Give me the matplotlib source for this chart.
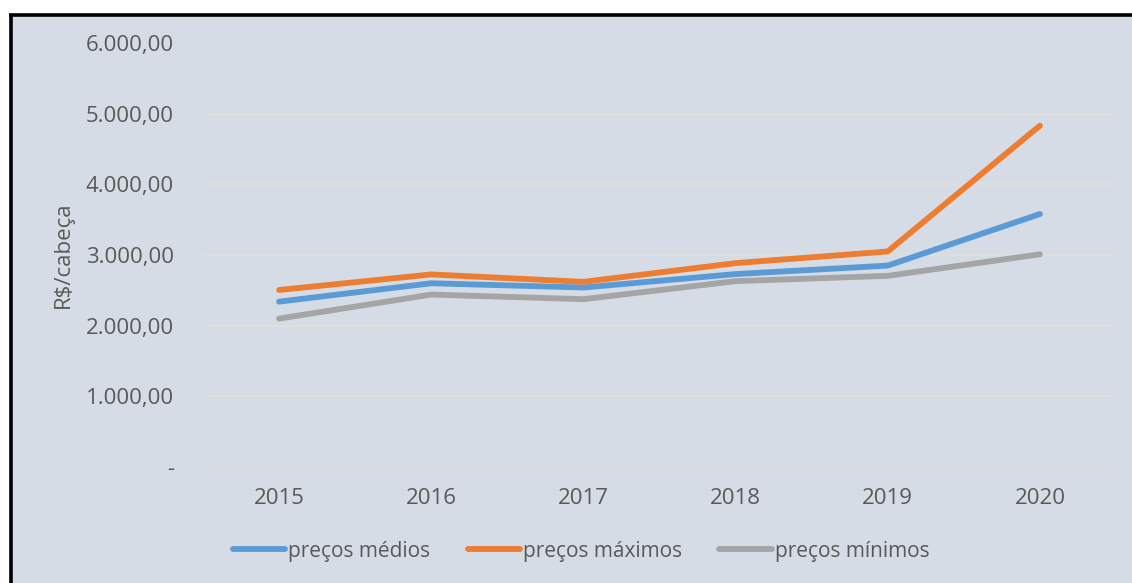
import matplotlib
matplotlib.use("Agg")
import matplotlib.pyplot as plt
from matplotlib.patches import Rectangle
from matplotlib.lines import Line2D

years = ["2015", "2016", "2017", "2018", "2019", "2020"]
precos_medios = [2340, 2600, 2540, 2730, 2850, 3580]
precos_maximos = [2505, 2725, 2620, 2885, 3050, 4830]
precos_minimos = [2100, 2440, 2375, 2630, 2705, 3010]
y_ticks = [0, 1000, 2000, 3000, 4000, 5000, 6000]
y_tick_labels = ["-", "1.000,00", "2.000,00", "3.000,00", "4.000,00", "5.000,00", "6.000,00"]
series_names = ["preços médios", "preços máximos", "preços mínimos"]

plt.rcParams['font.family'] = ['Open Sans', 'DejaVu Sans']

W, H = 1132, 583
fig = plt.figure(figsize=(W / 100, H / 100), dpi=100, facecolor="white")
bg = "#D6DCE5"
text_col = "#595959"

# background panel and border (top and left)
fig.patches.append(Rectangle((12 / W, 0), 1 - 12 / W, (H - 15) / H, transform=fig.transFigure,
                             facecolor=bg, edgecolor="none", zorder=-2))
fig.add_artist(Line2D([10.5 / W, 10.5 / W], [0, (H - 13.5) / H], color="black", lw=2.6,
                      transform=fig.transFigure, solid_capstyle="butt", zorder=-1))
fig.add_artist(Line2D([9 / W, 1], [(H - 14.5) / H, (H - 14.5) / H], color="black", lw=2.6,
                      transform=fig.transFigure, solid_capstyle="butt", zorder=-1))

ax = fig.add_axes([203 / W, 1 - 467 / H, (1116 - 203) / W, (467 - 43) / H])
ax.set_zorder(2)
ax.patch.set_alpha(0)

x = list(range(len(years)))
colors = ["#5B9BD5", "#ED7D31", "#A5A5A5"]
for vals, c, name in zip([precos_medios, precos_maximos, precos_minimos], colors, series_names):
    ax.plot(x, vals, color=c, lw=4.2, solid_capstyle="round", solid_joinstyle="round", label=name, zorder=3)

ax.set_xlim(-0.5, len(years) - 0.5)
ax.set_ylim(0, 6000)
ax.set_yticks(y_ticks)
ax.set_yticklabels(y_tick_labels)
ax.set_xticks(x)
ax.set_xticklabels(years)
ax.grid(axis="y", color="#DEDEDE", lw=1.5, zorder=1)
ax.grid(axis="x", visible=False)
ax.set_axisbelow(True)
for s in ax.spines.values():
    s.set_visible(False)
ax.tick_params(axis="both", length=0, labelsize=16, labelcolor=text_col)
ax.tick_params(axis="y", pad=21)
ax.tick_params(axis="x", pad=15)
ax.set_ylabel("R$/cabeça", fontsize=16, color=text_col)
ax.yaxis.set_label_coords(-0.141, 0.5)

handles, labels = ax.get_legend_handles_labels()
leg = fig.legend(handles, labels, loc="center", bbox_to_anchor=(581 / W, 1 - 551 / H), ncol=3,
                 frameon=False, fontsize=15, handlelength=2.5, handletextpad=0.15, columnspacing=1.8,
                 labelcolor=text_col)
leg.set_zorder(3)

fig.savefig("out.png", dpi=100, facecolor="white")
